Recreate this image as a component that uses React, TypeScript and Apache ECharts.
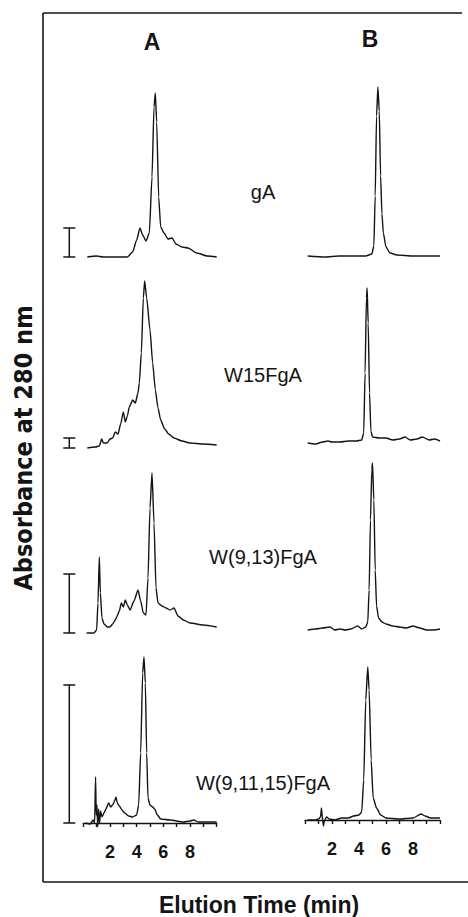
import React, { useEffect, useRef } from "react";
import * as echarts from "echarts";

// ---- data (elution time in min, relative absorbance) ----
const panelTitles = ["A", "B"];
const sampleNames = ["gA", "W15FgA", "W(9,13)FgA", "W(9,11,15)FgA"];
const timeTickLabels = [2, 4, 6, 8];

const gA_A: number[][] = [[0.3,0],[1.0,1],[1.5,0],[2.5,0],[3.3,0],[3.7,5],[4.0,17],[4.25,29],[4.45,22],[4.7,16],[4.95,24],[5.15,80],[5.3,150],[5.4,164],[5.5,135],[5.65,60],[5.8,30],[6.05,24],[6.35,18],[6.65,19],[6.95,13],[7.4,10],[7.85,9],[8.5,4],[9.3,1],[10,0]];
const gA_B: number[][] = [[0.2,0],[1.5,-1],[2.5,0],[3.5,0],[4.5,0],[4.95,2],[5.1,10],[5.2,60],[5.3,140],[5.4,169],[5.5,145],[5.6,80],[5.7,42],[5.8,23],[6.0,9],[6.3,3],[6.8,1],[8,0],[10,0]];
const w15_A: number[][] = [[0.3,0],[0.9,1],[1.2,2],[1.38,9],[1.5,5],[1.8,5],[2.0,9],[2.2,10],[2.4,16],[2.6,14],[2.8,24],[3.0,36],[3.15,26],[3.3,32],[3.45,41],[3.7,48],[3.9,45],[4.1,55],[4.2,65],[4.35,95],[4.5,150],[4.6,167],[4.75,150],[5.0,118],[5.2,85],[5.4,58],[5.6,40],[5.8,28],[6.1,19],[6.4,14],[6.8,10],[7.4,7],[8.0,5],[9.0,4],[10,3]];
const w15_B: number[][] = [[0.2,0],[0.8,-1],[1.3,1],[1.7,2],[2.0,1],[2.6,1],[3.2,2],[3.8,2],[4.2,3],[4.35,10],[4.45,70],[4.55,145],[4.6,155],[4.68,120],[4.78,50],[4.88,12],[5.0,6],[5.5,5],[6.0,5],[6.5,3],[7.0,4],[7.4,6],[7.8,3],[8.3,4],[8.7,6],[9.2,3],[9.6,4],[10,2]];
const w913_A: number[][] = [[0.25,0],[0.8,0],[1.0,3],[1.1,30],[1.2,76],[1.28,40],[1.4,15],[1.55,9],[1.8,6],[2.0,6],[2.2,9],[2.4,13],[2.5,16],[2.7,22],[2.85,30],[3.0,26],[3.15,33],[3.3,28],[3.5,23],[3.8,32],[4.1,43],[4.3,32],[4.5,20],[4.7,18],[4.85,55],[5.0,125],[5.15,160],[5.3,110],[5.45,45],[5.6,30],[5.9,27],[6.2,25],[6.5,23],[6.8,25],[7.1,17],[7.5,13],[8.0,10],[9.0,8],[10,6]];
const w913_B: number[][] = [[0.2,0],[0.8,1],[1.3,2],[1.85,3],[2.2,0],[2.6,1],[3.0,0],[3.4,1],[3.9,4],[4.2,1],[4.5,3],[4.65,8],[4.75,40],[4.85,110],[4.95,160],[5.0,167],[5.1,130],[5.2,60],[5.3,24],[5.45,12],[5.7,8],[6.0,6],[6.5,4],[7.0,3],[7.5,2],[8.0,4],[8.5,2],[9.0,0],[9.5,0],[10,1]];
const w91115_A: number[][] = [[0.15,0],[0.5,-1],[0.75,3],[0.85,0],[0.92,46],[0.97,8],[1.02,18],[1.08,-4],[1.15,14],[1.22,0],[1.3,12],[1.4,6],[1.55,10],[1.7,14],[1.9,20],[2.05,16],[2.2,18],[2.35,22],[2.45,26],[2.55,20],[2.7,17],[2.9,13],[3.1,10],[3.4,7],[3.7,6],[4.0,8],[4.15,18],[4.3,70],[4.45,150],[4.55,166],[4.65,140],[4.75,70],[4.85,25],[5.0,18],[5.2,16],[5.35,14],[5.55,8],[5.8,4],[6.5,3],[7.5,1],[8.0,2],[8.3,3],[8.6,1],[10,1]];
const w91115_B: number[][] = [[0.2,0],[0.8,0],[1.0,1],[1.15,3],[1.22,12],[1.3,0],[1.37,-6],[1.45,0],[1.6,3],[1.8,1],[2.2,0],[2.7,2],[3.2,2],[3.6,4],[4.0,5],[4.2,8],[4.35,40],[4.5,120],[4.65,153],[4.75,130],[4.9,60],[5.05,22],[5.3,12],[5.6,5],[6.0,2],[7.0,1],[8.0,2],[8.6,6],[8.9,4],[9.3,2],[10,2]];

// scale bar heights (same relative absorbance units) for column A
const scaleBars = [29, 10, 59, 138];

const tracesA = [gA_A, w15_A, w913_A, w91115_A];
const tracesB = [gA_B, w15_B, w913_B, w91115_B];

export default function App() {
  const ref = useRef<HTMLDivElement>(null);
  useEffect(() => {
    if (!ref.current) return;
    const chart = echarts.init(ref.current, null, { renderer: "svg" });
    const baseA = [257, 448, 633, 823];
    const baseB = [256, 443, 630, 820];
    const cols = [
      { left: 83.3, width: 133.4, base: baseA, traces: tracesA },
      { left: 305, width: 135, base: baseB, traces: tracesB },
    ];
    const grids: any[] = [];
    const xAxes: any[] = [];
    const yAxes: any[] = [];
    const series: any[] = [];
    const ink = "#141414";
    const fontUI = "'Liberation Sans', Arial, Helvetica, sans-serif";
    cols.forEach((c, ci) => {
      for (let r = 0; r < 4; r++) {
        const idx = grids.length;
        grids.push({ left: c.left, width: c.width, top: c.base[r] - 180, height: 190 });
        const bottom = r === 3;
        xAxes.push({
          gridIndex: idx,
          type: "value",
          min: 0,
          max: 10,
          interval: 1,
          show: bottom,
          splitLine: { show: false },
          axisLine: { show: bottom, lineStyle: { color: ink, width: 1.4 } },
          axisTick: { show: bottom, length: 4, lineStyle: { color: ink, width: 1.4 } },
          axisLabel: {
            show: bottom,
            margin: 10,
            color: ink,
            fontSize: 18,
            fontWeight: "bold",
            fontFamily: fontUI,
            formatter: (v: number) => (timeTickLabels.includes(v) ? String(v) : ""),
          },
        });
        yAxes.push({ gridIndex: idx, type: "value", min: -10, max: 180, show: false, splitLine: { show: false } });
        series.push({
          type: "line",
          xAxisIndex: idx,
          yAxisIndex: idx,
          data: c.traces[r],
          showSymbol: false,
          smooth: 0.2,
          smoothMonotone: "x",
          clip: true,
          lineStyle: { color: ink, width: 1.4 },
        });
        if (ci === 0) {
          series.push({
            type: "custom",
            xAxisIndex: idx,
            yAxisIndex: idx,
            clip: false,
            data: [[0, scaleBars[r]]],
            renderItem: (params: any, api: any) => {
              const b = api.coord([0, 0]);
              const t = api.coord([0, api.value(1)]);
              const x = b[0] - 14;
              const st = { stroke: ink, lineWidth: 1.5 };
              return {
                type: "group",
                children: [
                  { type: "line", shape: { x1: x, y1: b[1], x2: x, y2: t[1] }, style: st },
                  { type: "line", shape: { x1: x - 6, y1: b[1], x2: x + 6, y2: b[1] }, style: st },
                  { type: "line", shape: { x1: x - 6, y1: t[1], x2: x + 6, y2: t[1] }, style: st },
                ],
              };
            },
          });
        }
      }
    });

    const labelPos = [192, 375, 557, 783];
    const graphic: any[] = [
      { type: "line", shape: { x1: 43, y1: 13, x2: 43, y2: 882 }, style: { stroke: ink, lineWidth: 1.6 } },
      { type: "line", shape: { x1: 43, y1: 13, x2: 462, y2: 13 }, style: { stroke: ink, lineWidth: 1.6 } },
      { type: "line", shape: { x1: 43, y1: 882, x2: 468, y2: 882 }, style: { stroke: ink, lineWidth: 1.6 } },
      { type: "text", x: 152, y: 42, style: { text: panelTitles[0], fill: ink, font: `900 23px ${fontUI}`, textAlign: "center", textVerticalAlign: "middle" } },
      { type: "text", x: 370, y: 39, style: { text: panelTitles[1], fill: ink, font: `900 23px ${fontUI}`, textAlign: "center", textVerticalAlign: "middle" } },
      { type: "text", x: 259, y: 905, style: { text: "Elution Time (min)", fill: ink, font: `bold 23px ${fontUI}`, textAlign: "center", textVerticalAlign: "middle" } },
      { type: "text", x: 23, y: 448, rotation: Math.PI / 2, style: { text: "Absorbance at 280 nm", fill: ink, font: `bold 25px 'Liberation Sans Narrow', 'DejaVu Sans Condensed', Arial, sans-serif`, textAlign: "center", textVerticalAlign: "middle" } },
    ];
    sampleNames.forEach((n, i) => {
      graphic.push({ type: "text", x: 263, y: labelPos[i], style: { text: n, fill: ink, font: `20px ${fontUI}`, textAlign: "center", textVerticalAlign: "middle" } });
    });

    chart.setOption({
      animation: false,
      backgroundColor: "#ffffff",
      grid: grids,
      xAxis: xAxes,
      yAxis: yAxes,
      series,
      graphic,
    });
    return () => chart.dispose();
  }, []);
  return <div ref={ref} style={{ position: "absolute", left: 0, top: 0, width: 468, height: 917 }} />;
}
